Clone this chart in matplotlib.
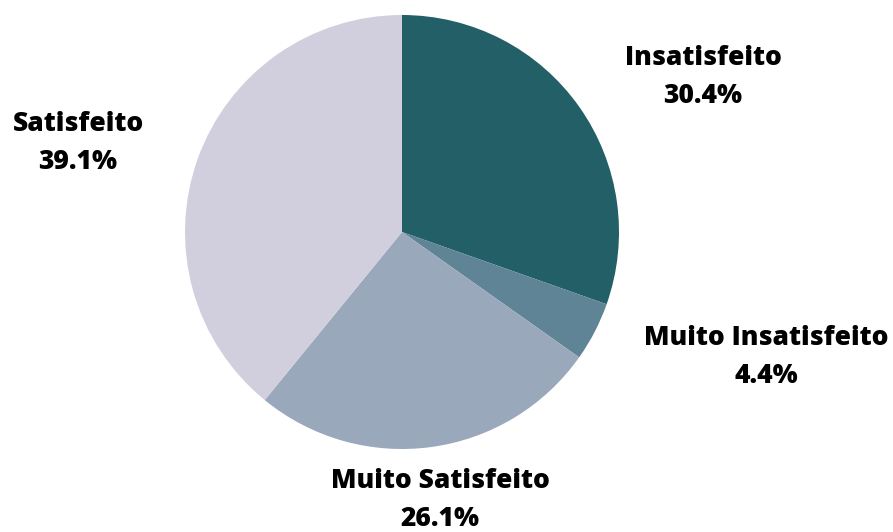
import matplotlib.pyplot as plt

labels = ["Insatisfeito", "Muito Insatisfeito", "Muito Satisfeito", "Satisfeito"]
values = [30.4, 4.4, 26.1, 39.1]
colors = ["#235f66", "#5f8496", "#9aa8bb", "#d1cfde"]
# label anchors in pixel coords (x, y from top)
label_pos = [(703, 77), (766, 357), (440, 500), (78, 143)]

W, H = 893, 532
fig = plt.figure(figsize=(W / 100, H / 100), dpi=100)
ax = fig.add_axes([0, 0, 1, 1])

ax.pie(
    values,
    colors=colors,
    startangle=90,
    counterclock=False,
    center=(402, H - 232),
    radius=217,
    frame=True,
    wedgeprops=dict(linewidth=0),
)
ax.set_xlim(0, W)
ax.set_ylim(0, H)
ax.set_aspect("equal")
ax.axis("off")

for lab, val, (x, y) in zip(labels, values, label_pos):
    ax.text(
        x, H - y, f"{lab}\n{val:.1f}%",
        ha="center", va="center",
        fontsize=19, fontweight=800, family="Open Sans",
        linespacing=1.62,
    )

fig.savefig("out.png", dpi=100)
